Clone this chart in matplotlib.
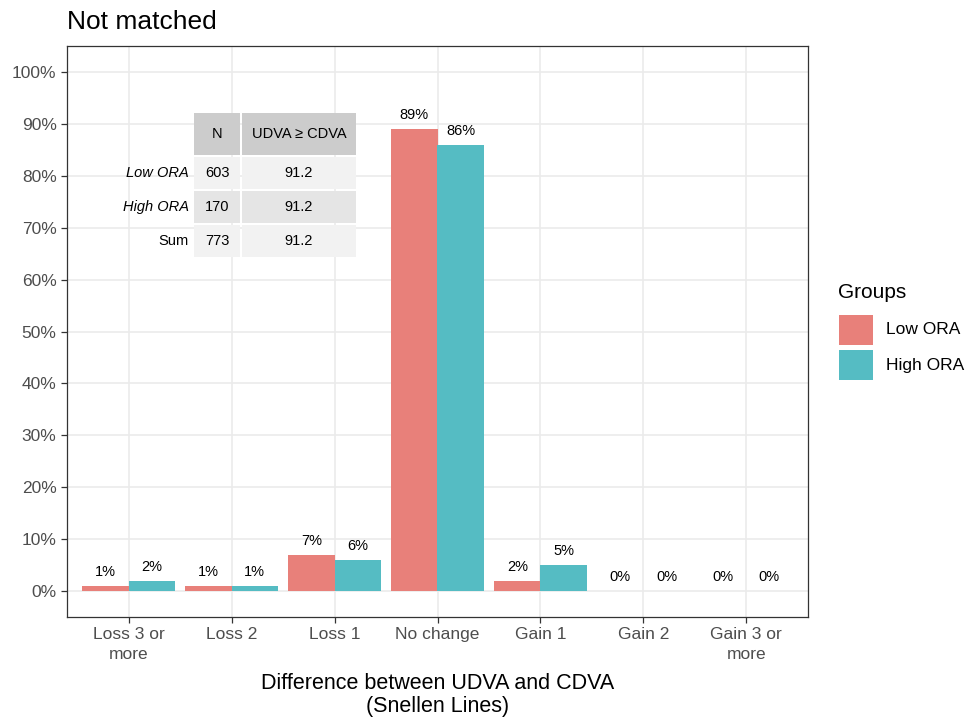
import matplotlib
matplotlib.use("Agg")
import matplotlib.pyplot as plt
from matplotlib.patches import Rectangle
import numpy as np

plt.rcParams['font.family'] = ['Liberation Sans', 'DejaVu Sans']

categories = ["Loss 3 or\nmore", "Loss 2", "Loss 1", "No change", "Gain 1", "Gain 2", "Gain 3 or\nmore"]
groups = ["Low ORA", "High ORA"]
low_ora = [1, 1, 7, 89, 2, 0, 0]
high_ora = [2, 1, 6, 86, 5, 0, 0]
colors = ["#E8807A", "#55BCC3"]

table_cols = ["N", "UDVA \u2265 CDVA"]
table_rows = ["Low ORA", "High ORA", "Sum"]
table_n = [603, 170, 773]
table_pct = [91.2, 91.2, 91.2]

W, H = 969, 717
fig = plt.figure(figsize=(W / 100, H / 100), dpi=100)
ax = fig.add_axes([67 / W, 1 - 617 / H, 741 / W, 571 / H])

x = np.arange(1, len(categories) + 1)
bw = 0.45
for i, (vals, col) in enumerate(zip([low_ora, high_ora], colors)):
    xs = x + (i - 0.5) * bw
    ax.bar(xs, vals, width=bw, color=col, zorder=2)
    for xx, v in zip(xs, vals):
        ax.annotate(f"{v}%", (xx, v), xytext=(0, 5), textcoords="offset points",
                    ha="center", va="bottom", fontsize=10.5, color="black", zorder=3)

ax.set_xlim(0.4, 7.6)
ax.set_ylim(-5, 105)
ax.set_yticks(np.arange(0, 101, 10))
ax.set_yticklabels([f"{t}%" for t in range(0, 101, 10)])
ax.set_xticks(x)
ax.set_xticklabels(categories, linespacing=1.35)
ax.grid(True, color="#EBEBEB", linewidth=1.2, zorder=0)
ax.set_axisbelow(True)
for s in ax.spines.values():
    s.set_color("#333333")
    s.set_linewidth(0.9)
ax.tick_params(colors="#333333", labelcolor="#4D4D4D", labelsize=12.5, length=4, width=0.9)
ax.set_xlabel("Difference between UDVA and CDVA\n(Snellen Lines)", fontsize=15.5,
              labelpad=8, linespacing=1.15)
fig.text(67 / W, 1 - 22 / H, "Not matched", fontsize=19, ha="left", va="center")

# summary table (pixel geometry -> figure coords)
def fx(px):
    return px / W

def fy(py):
    return 1 - py / H

col_edges = [(194, 240), (242, 356)]
row_edges = [(113, 155), (157, 189), (191, 223), (225, 257)]
fills = ["#CCCCCC", "#F2F2F2", "#E5E5E5", "#F2F2F2"]
cells = [table_cols] + [[str(n), f"{p:.1f}"] for n, p in zip(table_n, table_pct)]
for r, ((y0, y1), fill) in enumerate(zip(row_edges, fills)):
    for c, (x0, x1) in enumerate(col_edges):
        fig.patches.append(Rectangle((fx(x0), fy(y1)), fx(x1) - fx(x0), fy(y0) - fy(y1),
                                     transform=fig.transFigure, facecolor=fill,
                                     edgecolor="none", zorder=5))
        fig.text(fx((x0 + x1) / 2), fy((y0 + y1) / 2), cells[r][c], ha="center",
                 va="center", fontsize=10.5, zorder=6)
    if r > 0:
        name = table_rows[r - 1]
        fig.text(fx(189), fy((y0 + y1) / 2), name, ha="right", va="center",
                 fontsize=10.5, style="normal" if name == "Sum" else "italic", zorder=6)

# legend
fig.text(fx(838), fy(293), "Groups", fontsize=15, ha="left", va="center")
for i, (g, col) in enumerate(zip(groups, colors)):
    top = 315 + i * 35
    fig.patches.append(Rectangle((fx(839), fy(top + 30)), fx(34), 30 / H,
                                 transform=fig.transFigure, facecolor=col, edgecolor="none"))
    fig.text(fx(886), fy(top + 15), g, fontsize=12.5, ha="left", va="center")

fig.savefig("out.png", dpi=100)
